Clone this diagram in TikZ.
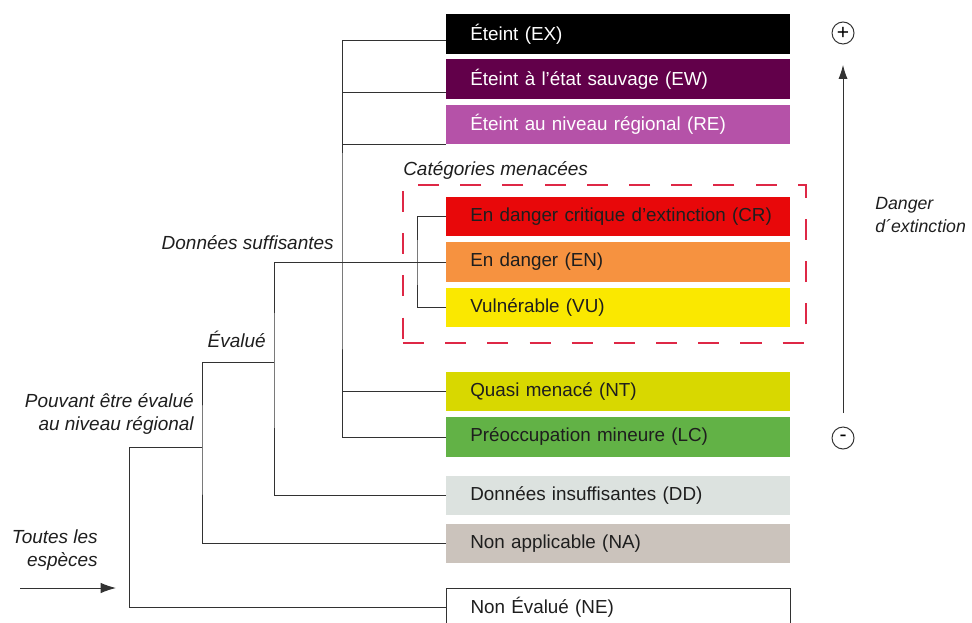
\documentclass[tikz,border=0pt]{standalone}
\usepackage{fontspec}
\setmainfont{Liberation Sans}
\usetikzlibrary{arrows.meta,calc,positioning}

\begin{document}
\begin{tikzpicture}[x=0.025cm,y=-0.025cm,
  catbox/.style={anchor=west, minimum height=0.975cm, text width=8.6cm, inner xsep=0pt, inner ysep=0pt, align=left, execute at begin node=\hspace*{0.6cm}, font=\fontsize{13.4}{15}\selectfont},
  lbl/.style={inner sep=0pt, text=txtCol, font=\fontsize{13.5}{16.8}\selectfont\itshape},
  link/.style={draw=lineCol, line width=0.7pt},
  sign/.style={circle, draw=lineCol, line width=0.7pt, minimum size=0.55cm, inner sep=0pt, font=\fontsize{15}{15}\selectfont}]
\useasboundingbox (0,0) rectangle (972,623);
\clip (0,0) rectangle (972,623);
\definecolor{exCol}{RGB}{0,0,0}
\definecolor{ewCol}{RGB}{98,0,74}
\definecolor{reCol}{RGB}{181,82,168}
\definecolor{crCol}{RGB}{232,8,10}
\definecolor{enCol}{RGB}{246,146,64}
\definecolor{vuCol}{RGB}{250,232,0}
\definecolor{ntCol}{RGB}{216,216,0}
\definecolor{lcCol}{RGB}{98,178,70}
\definecolor{ddCol}{RGB}{220,226,223}
\definecolor{naCol}{RGB}{203,195,188}
\definecolor{menCol}{RGB}{222,40,70}
\definecolor{lineCol}{RGB}{50,50,50}
\definecolor{txtCol}{RGB}{30,30,30}
% categories
\foreach \nm/\yc/\bg/\fg/\txt in {
  ex/34/exCol/white/{Éteint (EX)},
  ew/79/ewCol/white/{Éteint à l'état sauvage (EW)},
  re/124.5/reCol/white/{Éteint au niveau régional (RE)},
  cr/216.5/crCol/txtCol/{En danger critique d’extinction (CR)},
  en/262/enCol/txtCol/{En danger (EN)},
  vu/307.5/vuCol/txtCol/{Vulnérable (VU)},
  nt/391.5/ntCol/txtCol/{Quasi menacé (NT)},
  lc/437/lcCol/txtCol/{Préoccupation mineure (LC)},
  dd/495.5/ddCol/txtCol/{Données insuffisantes (DD)},
  na/543.5/naCol/txtCol/{Non applicable (NA)}}
  \node[catbox, fill=\bg, text=\fg] (\nm) at (446,\yc) {\txt};
\node[catbox, draw=lineCol, line width=0.7pt, text=txtCol] (ne) at (446,607.5) {Non Évalué (NE)};
% threatened frame
\node[draw=menCol, line width=0.9pt, dash pattern=on 15pt off 15pt, minimum width=10.075cm, minimum height=3.95cm] (menace) at (604.5,264) {};
\node[lbl, anchor=west] (lMen) at (403,170) {Catégories menacées};
% tree
\coordinate (exIn) at ($(ex.south west)!0.33!(ex.north west)$);
\coordinate (ewIn) at ($(ew.south west)!0.15!(ew.north west)$);
\coordinate (reIn) at (re.south west);
\coordinate (kSuf) at (342,263);
\coordinate (kMen) at (417,263);
\coordinate (kDon) at (274,362);
\coordinate (kEva) at (202,447);
\coordinate (kAll) at (129,447);
\draw[link] (exIn) -| (kSuf) |- (lc.west);
\draw[link] (kSuf |- ewIn) -- (ewIn);
\draw[link] (kSuf |- reIn) -- (reIn);
\draw[link] (kSuf |- nt.west) -- (nt.west);
\draw[link] (cr.west) -| (kMen) |- (vu.west);
\draw[link] (en.west) -| (kDon) |- (dd.west);
\draw[link] (kDon) -| (kEva) |- (na.west);
\draw[link] (kEva) -- (kAll) |- (ne.west);
\node[lbl, anchor=east] (lSuf) at (334,243) {Données suffisantes};
\node[lbl, anchor=east] (lEva) at (266,339) {Évalué};
\node[lbl, anchor=east, align=right] (lReg) at (194,414) {Pouvant être évalué\\au niveau régional};
\node[lbl, anchor=east, align=right] (lAll) at (98,550) {Toutes les\\espèces};
\coordinate (allA) at (20,588);
\coordinate (allB) at (116,588);
\draw[link, -{Latex[length=11pt,width=7.5pt]}] (allA) -- (allB);
% danger scale
\node[sign] (plus) at (843,33) {+};
\node[sign] (minus) at (843,438) {-};
\draw[link, -{Latex[length=10pt,width=6.5pt]}, shorten >=14.5pt, shorten <=9.5pt] (minus) -- (plus);
\node[lbl, anchor=west, align=left, font=\fontsize{12.6}{16.8}\selectfont\itshape] (lDan) at (875,215) {Danger\\d´extinction};
\end{tikzpicture}
\end{document}
